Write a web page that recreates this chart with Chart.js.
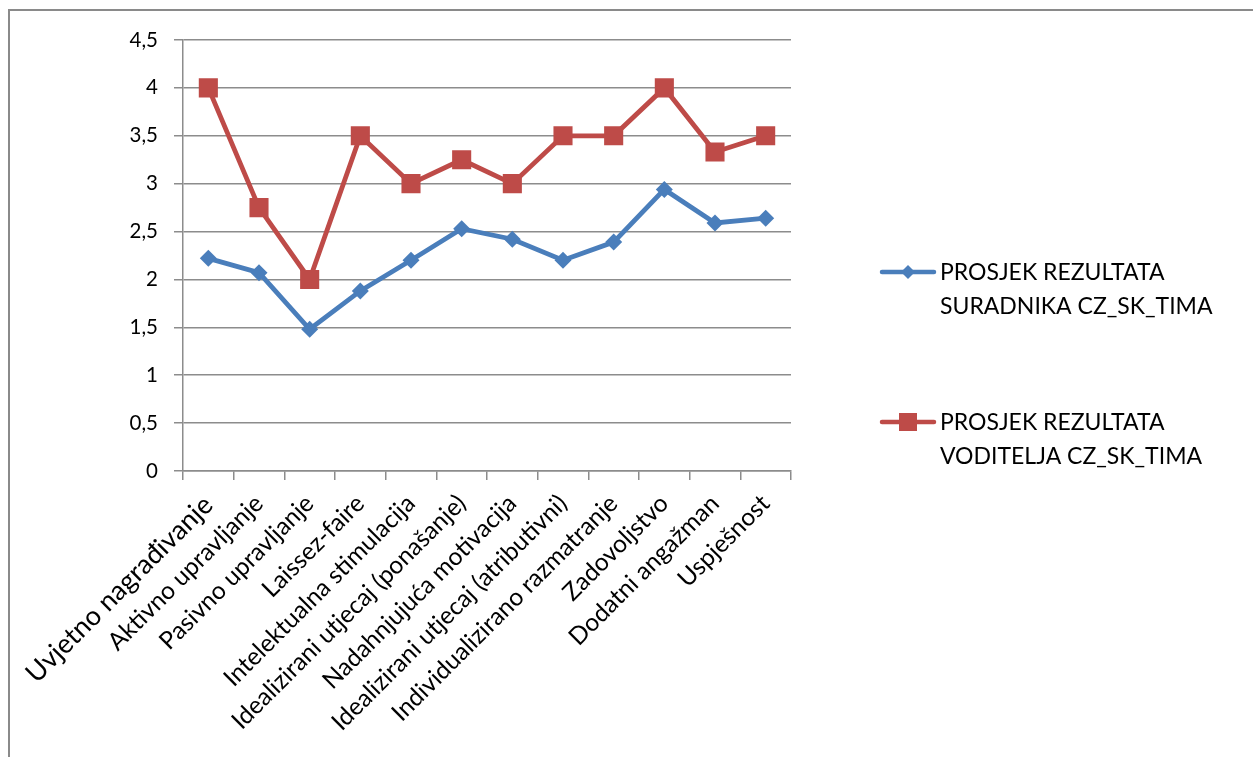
<!DOCTYPE html>
<html lang="hr">
<head>
  <meta charset="UTF-8">
  <title>Prosjek rezultata CZ_SK tima</title>
  <script src="https://cdn.jsdelivr.net/npm/chart.js"></script>
  <style>
    html, body {
      margin: 0;
      padding: 0;
      background: #fff;
    }
    .wrap {
      position: relative;
      width: 1253px;
      height: 757px;
    }
    .frame {
      position: absolute;
      left: 8px;
      top: 9px;
      right: 0;
      bottom: 0;
      border-left: 2px solid #8a8a8a;
      border-top: 2px solid #8a8a8a;
    }
    canvas {
      position: absolute;
      left: 0;
      top: 0;
    }
  </style>
</head>
<body>
  <div class="wrap">
    <div class="frame"></div>
    <canvas id="resultsChart" width="1253" height="757"></canvas>
  </div>

  <script>
    // categories (x axis)
    const categories = [
      'Uvjetno nagrađivanje',
      'Aktivno upravljanje',
      'Pasivno upravljanje',
      'Laissez-faire',
      'Intelektualna stimulacija',
      'Idealizirani utjecaj (ponašanje)',
      'Nadahnjujuća motivacija',
      'Idealizirani utjecaj (atributivni)',
      'Individualizirano razmatranje',
      'Zadovoljstvo',
      'Dodatni angažman',
      'Uspješnost'
    ];

    // series values
    const suradnici = [2.22, 2.07, 1.48, 1.88, 2.20, 2.53, 2.42, 2.20, 2.39, 2.94, 2.59, 2.64];
    const voditelji = [4.0, 2.75, 2.0, 3.5, 3.0, 3.25, 3.0, 3.5, 3.5, 4.0, 3.33, 3.5];

    // legend text, one entry per line
    const seriesNames = [
      ['PROSJEK REZULTATA', 'SURADNIKA CZ_SK_TIMA'],
      ['PROSJEK REZULTATA', 'VODITELJA CZ_SK_TIMA']
    ];

    const yTicks = [0, 0.5, 1, 1.5, 2, 2.5, 3, 3.5, 4, 4.5];

    const blue = '#4a7ebb';
    const red = '#be4b48';
    const gridColor = '#8c8c8c';
    const fontFamily = 'Lato, "Open Sans", sans-serif';

    // draws the legend to the right of the plot, two lines per entry
    const sideLegend = {
      id: 'sideLegend',
      afterDraw(chart) {
        const ctx = chart.ctx;
        const rows = [272, 422];
        ctx.save();
        chart.data.datasets.forEach((ds, i) => {
          const y = rows[i];
          ctx.strokeStyle = ds.borderColor;
          ctx.lineWidth = 4.5;
          ctx.lineCap = 'round';
          ctx.beginPath();
          ctx.moveTo(882, y);
          ctx.lineTo(934, y);
          ctx.stroke();
          ctx.fillStyle = ds.backgroundColor;
          if (ds.pointStyle === 'rectRot') {
            ctx.beginPath();
            ctx.moveTo(908, y - 7);
            ctx.lineTo(915, y);
            ctx.lineTo(908, y + 7);
            ctx.lineTo(901, y);
            ctx.closePath();
            ctx.fill();
          } else {
            ctx.fillRect(899, y - 9, 18, 18);
          }
          ctx.fillStyle = '#000';
          ctx.font = '23px ' + fontFamily;
          ctx.textBaseline = 'middle';
          ctx.textAlign = 'left';
          seriesNames[i].forEach((line, j) => {
            ctx.fillText(line, 940, y + 1 + j * 34);
          });
        });
        ctx.restore();
      }
    };

    const resultsChart = new Chart(document.getElementById('resultsChart'), {
      type: 'line',
      data: {
        labels: categories,
        datasets: [{
          label: seriesNames[0].join(' '),
          data: suradnici,
          borderColor: blue,
          backgroundColor: blue,
          borderWidth: 4.8,
          pointStyle: 'rectRot',
          pointRadius: 8.5,
          pointBorderWidth: 0,
          tension: 0
        }, {
          label: seriesNames[1].join(' '),
          data: voditelji,
          borderColor: red,
          backgroundColor: red,
          borderWidth: 4.8,
          pointStyle: 'rect',
          pointRadius: 13.5,
          pointBorderWidth: 0,
          tension: 0
        }]
      },
      options: {
        responsive: false,
        animation: false,
        layout: {
          padding: { left: 0, right: 462, top: 40, bottom: 0 }
        },
        plugins: {
          legend: { display: false },
          tooltip: { enabled: false }
        },
        scales: {
          x: {
            offset: true,
            afterFit: (scale) => { scale.height = 286; },
            grid: {
              offset: true,
              drawOnChartArea: false,
              drawTicks: true,
              tickLength: 9,
              color: gridColor,
              lineWidth: 1.5
            },
            border: { color: gridColor, width: 1.5 },
            ticks: {
              autoSkip: false,
              minRotation: 45,
              maxRotation: 45,
              padding: 9,
              color: '#000',
              font: (ctx) => ({
                family: fontFamily,
                size: ctx.index === 0 ? 27 : 24.5
              })
            }
          },
          y: {
            min: 0,
            max: 4.5,
            afterFit: (scale) => { scale.width = 183; },
            afterBuildTicks: (scale) => {
              scale.ticks = yTicks.map(v => ({ value: v }));
            },
            grid: {
              color: gridColor,
              lineWidth: 1.5,
              tickLength: 9
            },
            border: { color: gridColor, width: 1.5 },
            ticks: {
              padding: 16,
              color: '#000',
              font: { family: fontFamily, size: 20.5 },
              callback: (v) => String(v).replace('.', ',')
            }
          }
        }
      },
      plugins: [sideLegend]
    });
  </script>
</body>
</html>
